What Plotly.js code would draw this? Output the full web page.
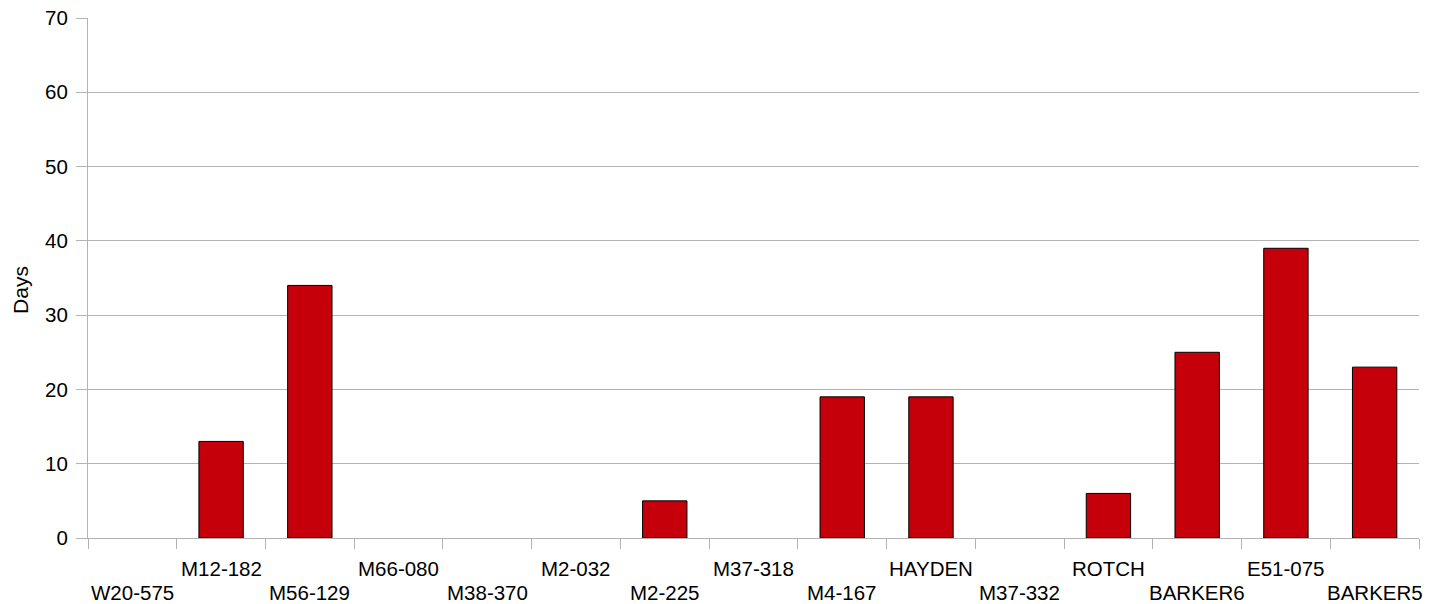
<!DOCTYPE html>
<html>
<head>
<meta charset="utf-8">
<script src="https://cdn.plot.ly/plotly-3.0.1.min.js"></script>
<style>html,body{margin:0;padding:0;background:#fff;}#chart{width:1439px;height:604px;}</style>
</head>
<body>
<div id="chart"></div>
<script>
const categories = ["W20-575","M12-182","M56-129","M66-080","M38-370","M2-032","M2-225","M37-318","M4-167","HAYDEN","M37-332","ROTCH","BARKER6","E51-075","BARKER5"];
const days = [0,13,34,0,0,0,5,0,19,19,0,6,25,39,23];
const yTicks = [0,10,20,30,40,50,60,70];

const FONT = "Liberation Sans, Arial, sans-serif";
const annotations = categories.map((c, i) => ({
  x: c, xref: 'x', yref: 'paper',
  y: i % 2 === 0 ? -0.1055 : -0.059,
  yanchor: 'middle', xanchor: 'center',
  text: c, showarrow: false,
  font: {family: FONT, size: 20.5, color: '#000'}
}));
annotations.push({
  xref: 'paper', yref: 'paper', x: 0, y: 0.477, xshift: -67,
  xanchor: 'center', yanchor: 'middle', textangle: -90,
  text: 'Days', showarrow: false,
  font: {family: FONT, size: 21, color: '#000'}
});

const trace = {
  type: 'bar', x: categories, y: days.map(v => v === 0 ? null : v),
  marker: {color: '#C5000B', line: {color: '#000', width: 1}},
  width: 0.5, hoverinfo: 'skip'
};

const layout = {
  width: 1439, height: 604,
  margin: {l: 88, r: 20, t: 18, b: 66},
  paper_bgcolor: '#fff', plot_bgcolor: '#fff',
  showlegend: false,
  font: {family: FONT, size: 20.5, color: '#000'},
  xaxis: {
    type: 'category', showticklabels: false,
    tickson: 'boundaries', ticks: 'outside', ticklen: 10, tickcolor: '#b3b3b3', tickwidth: 1,
    showline: true, linecolor: '#b3b3b3', linewidth: 1,
    showgrid: false, zeroline: false, range: [-0.5, 14.5]
  },
  yaxis: {
    range: [0, 70], tickvals: yTicks, ticktext: yTicks.map(String),
    ticks: 'outside', ticklen: 11, tickcolor: '#b3b3b3', tickwidth: 1,
    ticklabelstandoff: 4,
    showline: true, linecolor: '#b3b3b3', linewidth: 1,
    showgrid: true, gridcolor: '#b3b3b3', gridwidth: 1, zeroline: false,
    tickfont: {family: FONT, size: 20.5, color: '#000'},
    automargin: false
  },
  annotations: annotations
};

Plotly.newPlot('chart', [trace], layout, {displayModeBar: false, staticPlot: true});
</script>
</body>
</html>
